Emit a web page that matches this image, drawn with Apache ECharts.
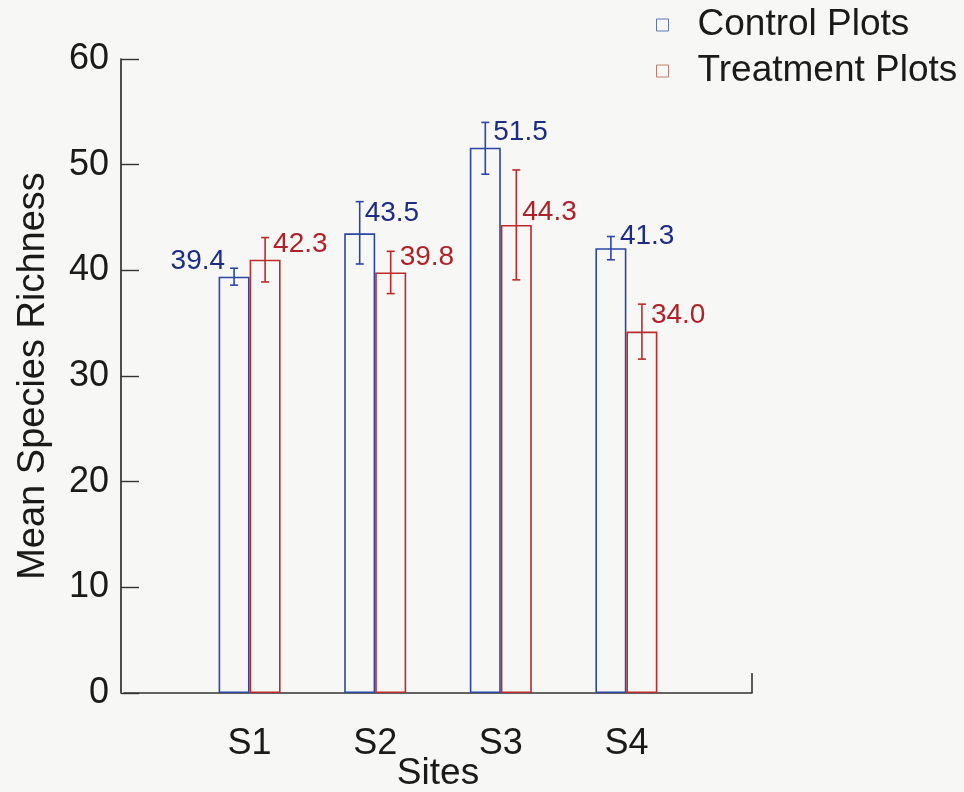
<!DOCTYPE html>
<html>
<head>
<meta charset="utf-8">
<script src="https://cdn.jsdelivr.net/npm/echarts@6/dist/echarts.min.js"></script>
<style>
  html, body { margin: 0; padding: 0; background: #f7f7f5; }
  #chart { width: 964px; height: 792px; }
</style>
</head>
<body>
<div id="chart"></div>
<script>
// ---- data ----
const categories = ['S1', 'S2', 'S3', 'S4'];
const seriesNames = ['Control Plots', 'Treatment Plots'];
const controlMeans = [39.4, 43.5, 51.6, 42.1];
const treatmentMeans = [41.0, 39.8, 44.3, 34.2];
const controlLow = [38.6, 40.6, 49.1, 41.0];
const controlHigh = [40.2, 46.5, 54.0, 43.2];
const treatmentLow = [38.9, 37.8, 39.1, 31.6];
const treatmentHigh = [43.1, 41.8, 49.5, 36.8];
const controlLabels = ['39.4', '43.5', '51.5', '41.3'];
const treatmentLabels = ['42.3', '39.8', '44.3', '34.0'];
const yTickValues = [0, 10, 20, 30, 40, 50, 60];

// ---- styling ----
const FONT = "'Liberation Sans', Arial, Helvetica, sans-serif";
const BLUE = '#2c46a6';
const BLUE_TXT = '#1d2d85';
const RED = '#bd2a2a';
const RED_TXT = '#b0222a';
const BAR_W = 31;
// label placement relative to the error-bar top: [dx, dy, align]
const controlLabelShift = [[-9, -7, 'right'], [5, 12, 'left'], [8, 10, 'left'], [9, 0, 'left']];
const treatmentLabelShift = [[8, 7, 'left'], [9, 6, 'left'], [6, 42, 'left'], [9, 11, 'left']];

const axisCats = [''].concat(categories, ['']);

function errorSeries(name, low, high, labels, shifts, side, color, txtColor) {
  return {
    type: 'custom',
    name: name + ' err',
    silent: true,
    z: 5,
    data: categories.map((c, i) => [c, low[i], high[i], i]),
    renderItem: function (params, api) {
      const idx = api.value(3);
      const lo = api.coord([api.value(0), api.value(1)]);
      const hi = api.coord([api.value(0), api.value(2)]);
      const x = lo[0] + side * BAR_W / 2;
      const cap = 4;
      const sh = shifts[idx];
      return {
        type: 'group',
        children: [
          { type: 'line', shape: { x1: x, y1: hi[1], x2: x, y2: lo[1] }, style: { stroke: color, lineWidth: 1.6 } },
          { type: 'line', shape: { x1: x - cap, y1: hi[1], x2: x + cap, y2: hi[1] }, style: { stroke: color, lineWidth: 1.6 } },
          { type: 'line', shape: { x1: x - cap, y1: lo[1], x2: x + cap, y2: lo[1] }, style: { stroke: color, lineWidth: 1.6 } },
          { type: 'text', style: { text: labels[idx], x: x + sh[0], y: hi[1] + sh[1], fill: txtColor,
              fontSize: 28, fontFamily: FONT, align: sh[2], verticalAlign: 'middle' } }
        ]
      };
    }
  };
}

const chart = echarts.init(document.getElementById('chart'), null, { renderer: 'canvas' });
chart.setOption({
  backgroundColor: '#f7f7f5',
  animation: false,
  textStyle: { fontFamily: FONT },
  legend: {
    orient: 'vertical',
    left: 656,
    top: 2,
    padding: 0,
    itemWidth: 12,
    itemHeight: 12,
    itemGap: 0,
    icon: 'rect',
    textStyle: { fontSize: 37, color: '#1a1a1a', fontFamily: FONT, lineHeight: 46, padding: [0, 0, 0, 24] },
    data: [
      { name: seriesNames[0], itemStyle: { color: 'transparent', borderColor: '#5b78b8', borderWidth: 1 } },
      { name: seriesNames[1], itemStyle: { color: 'transparent', borderColor: '#c87a6a', borderWidth: 1 } }
    ]
  },
  grid: { left: 124, right: 212, top: 59, bottom: 99, containLabel: false, outerBoundsMode: 'none' },
  xAxis: {
    type: 'category',
    data: axisCats,
    boundaryGap: false,
    name: 'Sites',
    nameLocation: 'middle',
    nameGap: 62,
    nameMoveOverlap: false,
    nameTextStyle: { fontSize: 37, color: '#1a1a1a', fontFamily: FONT },
    axisLine: { show: true, lineStyle: { color: '#333', width: 1.6 } },
    axisTick: { show: true, inside: true, length: 20, interval: function (i) { return i === axisCats.length - 1; }, lineStyle: { color: '#333', width: 1.6 } },
    axisLabel: { fontSize: 36, color: '#1a1a1a', margin: 33, interval: 0, fontFamily: FONT },
    splitLine: { show: false }
  },
  yAxis: {
    type: 'value',
    min: yTickValues[0],
    max: yTickValues[yTickValues.length - 1],
    interval: 10,
    offset: 3,
    name: 'Mean Species Richness',
    nameLocation: 'middle',
    nameGap: 68,
    nameMoveOverlap: false,
    nameTextStyle: { fontSize: 38, color: '#1a1a1a', fontFamily: FONT },
    axisLine: { show: true, lineStyle: { color: '#222', width: 1.6 } },
    axisTick: { show: true, inside: true, length: 18, lineStyle: { color: '#333', width: 1.4 } },
    axisLabel: { fontSize: 36, color: '#1a1a1a', margin: 12, fontFamily: FONT },
    splitLine: { show: false }
  },
  series: [
    {
      type: 'bar',
      name: seriesNames[0],
      barWidth: BAR_W,
      barGap: '0%',
      data: categories.map((c, i) => [c, controlMeans[i]]),
      itemStyle: { color: 'transparent', borderColor: BLUE, borderWidth: 1.6 }
    },
    {
      type: 'bar',
      name: seriesNames[1],
      barWidth: BAR_W,
      barGap: '0%',
      data: categories.map((c, i) => [c, treatmentMeans[i]]),
      itemStyle: { color: 'transparent', borderColor: RED, borderWidth: 1.6 }
    },
    errorSeries(seriesNames[0], controlLow, controlHigh, controlLabels, controlLabelShift, -1, BLUE, BLUE_TXT),
    errorSeries(seriesNames[1], treatmentLow, treatmentHigh, treatmentLabels, treatmentLabelShift, 1, RED, RED_TXT)
  ]
});
</script>
</body>
</html>
